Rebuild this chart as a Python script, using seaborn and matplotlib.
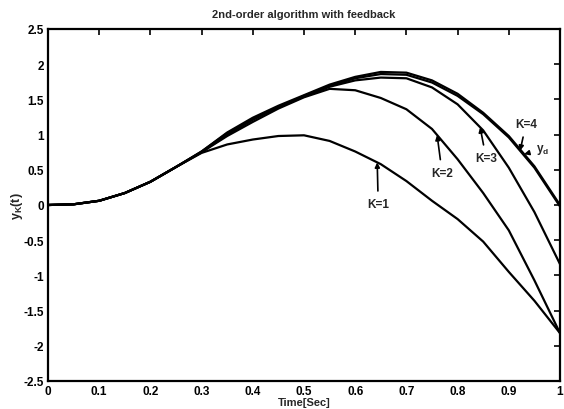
import matplotlib
matplotlib.use("Agg")
import matplotlib.pyplot as plt
import seaborn as sns
import pandas as pd

# ---- data ----
t = [0.0, 0.05, 0.10, 0.15, 0.20, 0.25, 0.30, 0.35, 0.40, 0.45, 0.50,
     0.55, 0.60, 0.65, 0.70, 0.75, 0.80, 0.85, 0.90, 0.95, 1.00]

k1 = [0.0, 0.01, 0.06, 0.17, 0.33, 0.54, 0.74, 0.86, 0.93, 0.98, 0.99,
      0.91, 0.76, 0.58, 0.34, 0.06, -0.20, -0.52, -0.95, -1.36, -1.82]
k2 = [0.0, 0.01, 0.06, 0.17, 0.33, 0.54, 0.75, 0.98, 1.18, 1.37, 1.53,
      1.65, 1.63, 1.52, 1.36, 1.08, 0.65, 0.17, -0.36, -1.07, -1.82]
k3 = [0.0, 0.01, 0.06, 0.17, 0.33, 0.54, 0.75, 1.00, 1.21, 1.39, 1.54,
      1.68, 1.77, 1.81, 1.80, 1.67, 1.43, 1.06, 0.53, -0.10, -0.84]
k4 = [0.0, 0.01, 0.06, 0.17, 0.33, 0.54, 0.76, 1.02, 1.22, 1.39, 1.55,
      1.69, 1.80, 1.86, 1.85, 1.74, 1.55, 1.29, 0.96, 0.53, -0.02]
yd = [0.0, 0.01, 0.06, 0.17, 0.33, 0.54, 0.76, 1.03, 1.24, 1.41, 1.56,
      1.71, 1.82, 1.89, 1.88, 1.77, 1.58, 1.31, 0.98, 0.55, 0.00]

xticks = [0, 0.1, 0.2, 0.3, 0.4, 0.5, 0.6, 0.7, 0.8, 0.9, 1]
xticklabels = ["0", "0.1", "0.2", "0.3", "0.4", "0.5", "0.6", "0.7", "0.8", "0.9", "1"]
yticks = [-2.5, -2, -1.5, -1, -0.5, 0, 0.5, 1, 1.5, 2, 2.5]
yticklabels = ["-2.5", "-2", "-1.5", "-1", "-0.5", "0", "0.5", "1", "1.5", "2", "2.5"]

title = "2nd-order algorithm with feedback"
xlabel = "Time[Sec]"
ylabel = r"y$_K$(t)"

series = {"K=1": k1, "K=2": k2, "K=3": k3, "K=4": k4, "yd": yd}
df = pd.concat([pd.DataFrame({"t": t, "y": v, "series": name})
                for name, v in series.items()], ignore_index=True)

# ---- style ----
sns.set_theme(style="white")
plt.rcParams["font.family"] = ["Liberation Sans", "DejaVu Sans"]
plt.rcParams["font.weight"] = "bold"
plt.rcParams["mathtext.default"] = "bf"
plt.rcParams["mathtext.fontset"] = "custom"
plt.rcParams["mathtext.bf"] = "Liberation Sans:bold"

fig = plt.figure(figsize=(5.64, 4.10), dpi=100)
ax = fig.add_axes([48 / 564, (410 - 382) / 410, 512 / 564, 352 / 410])

sns.lineplot(data=df, x="t", y="y", hue="series",
             palette=["black"] * len(series), legend=False,
             linewidth=1.6, ax=ax, sort=False)

ax.set_xlim(0, 1)
ax.set_ylim(-2.5, 2.5)
ax.set_xticks(xticks)
ax.set_xticklabels(xticklabels)
ax.set_yticks(yticks)
ax.set_yticklabels(yticklabels)
ax.tick_params(direction="in", length=4, width=1.2, top=True, right=True,
               labelsize=8.5, pad=3, colors="black")
for lab in ax.get_xticklabels() + ax.get_yticklabels():
    lab.set_fontweight("bold")
for sp in ax.spines.values():
    sp.set_visible(True)
    sp.set_color("black")
    sp.set_linewidth(1.6)

ax.set_title(title, fontsize=8, fontweight="bold", pad=9)
ax.set_xlabel(xlabel, fontsize=8, fontweight="bold", labelpad=0)
ax.set_ylabel(ylabel, fontsize=9, fontweight="bold")
ax.yaxis.set_label_coords(-0.045, 0.5)

# ---- annotations ----
def val(arr, tt):
    for i in range(len(t) - 1):
        if t[i] <= tt <= t[i + 1]:
            f = (tt - t[i]) / (t[i + 1] - t[i])
            return arr[i] + f * (arr[i + 1] - arr[i])
    return arr[-1]

ann = [("K=1", k1, 0.643, (1, -42)),
       ("K=2", k2, 0.760, (5, -38)),
       ("K=3", k3, 0.844, (6, -31)),
       ("K=4", k4, 0.922, (6, 27)),
       (r"y$_d$", yd, 0.930, (18, 5))]
for text, arr, tt, off in ann:
    ax.annotate(text, xy=(tt, val(arr, tt)), xytext=off,
                textcoords="offset pixels", ha="center", va="center",
                fontsize=8.5, fontweight="bold",
                arrowprops=dict(arrowstyle="-|>", color="black", lw=1.2,
                                mutation_scale=7, shrinkA=3, shrinkB=0))

fig.savefig("out.png", dpi=100)
